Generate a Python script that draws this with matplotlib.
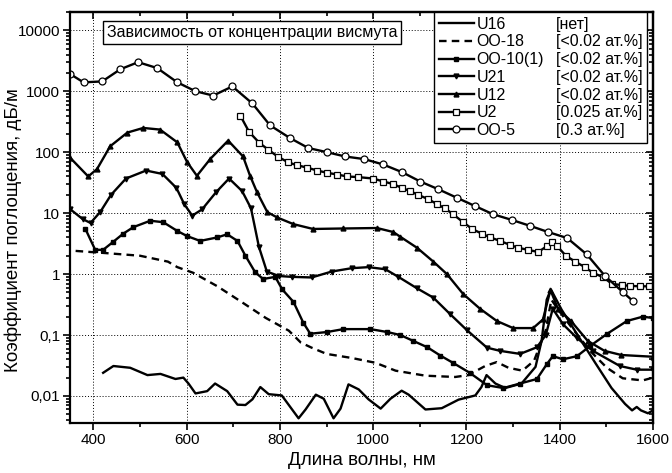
import numpy as np
import matplotlib
matplotlib.use("Agg")
from matplotlib import pyplot as plt
from matplotlib.lines import Line2D
from matplotlib.ticker import FixedLocator, FixedFormatter, LogLocator, NullFormatter, MultipleLocator

plt.rcParams['font.family'] = ['Liberation Sans', 'DejaVu Sans']

# U16 (no Bi)
u16_x = [421, 443, 479, 516, 544, 576, 593, 604, 619, 644, 661, 687, 709, 726, 741, 758, 776,
         804, 840, 855, 877, 894, 915, 930, 947, 969, 990, 1016, 1037, 1061, 1076, 1112, 1147,
         1183, 1219, 1232, 1243, 1262, 1283, 1318, 1348, 1361, 1372, 1381, 1404, 1440, 1476,
         1511, 1540, 1555, 1565, 1574, 1589, 1600]
u16_y = [0.024, 0.031, 0.029, 0.022, 0.023, 0.019, 0.020, 0.016, 0.011, 0.012, 0.016, 0.012,
         0.0072, 0.0071, 0.0088, 0.014, 0.0107, 0.0102, 0.0043, 0.006, 0.0105, 0.009, 0.0043,
         0.0062, 0.0155, 0.0128, 0.0088, 0.0062, 0.009, 0.0122, 0.0105, 0.006, 0.0063, 0.0087,
         0.0102, 0.014, 0.022, 0.016, 0.0135, 0.016, 0.03, 0.08, 0.38, 0.56, 0.26, 0.095, 0.035,
         0.0135, 0.0074, 0.0058, 0.0066, 0.0058, 0.0052, 0.0058]

# OO-18
oo18_x = [362, 430, 500, 560, 580, 614, 666, 715, 770, 819, 845, 868, 900, 954, 1005, 1048,
          1112, 1176, 1204, 1240, 1265, 1290, 1320, 1345, 1370, 1382, 1400, 1430, 1465, 1501,
          1535, 1578, 1600]
oo18_y = [2.4, 2.2, 2.0, 1.6, 1.3, 1.05, 0.63, 0.36, 0.19, 0.118, 0.075, 0.062, 0.049, 0.042,
          0.035, 0.026, 0.0215, 0.0205, 0.022, 0.031, 0.036, 0.029, 0.026, 0.038, 0.12, 0.38,
          0.24, 0.12, 0.055, 0.029, 0.0195, 0.018, 0.02]

# OO-10(1)
oo10_x = [383, 404, 421, 443, 464, 486, 522, 550, 580, 601, 629, 666, 687, 709, 726, 747, 764,
          790, 805, 829, 850, 865, 901, 936, 994, 1030, 1058, 1086, 1116, 1144, 1171, 1207,
          1244, 1279, 1315, 1351, 1372, 1385, 1407, 1437, 1465, 1501, 1544, 1578, 1600]
oo10_y = [5.5, 2.5, 2.5, 3.4, 4.6, 5.9, 7.5, 7.1, 5.1, 4.2, 3.5, 4.0, 4.5, 3.5, 2.0, 1.07, 0.83,
          0.9, 0.56, 0.35, 0.16, 0.105, 0.112, 0.125, 0.125, 0.112, 0.1, 0.08, 0.063, 0.046,
          0.035, 0.024, 0.015, 0.0135, 0.016, 0.019, 0.033, 0.045, 0.04, 0.045, 0.066, 0.104,
          0.17, 0.2, 0.19]

# U21
u21_x = [351, 377, 394, 415, 438, 470, 513, 548, 578, 595, 612, 633, 663, 691, 719, 738, 755,
         772, 798, 826, 868, 911, 954, 990, 1026, 1054, 1093, 1129, 1165, 1201, 1244, 1272,
         1315, 1351, 1370, 1385, 1407, 1437, 1471, 1529, 1565, 1600]
u21_y = [11.5, 8.0, 6.9, 10.5, 20, 37, 50, 44, 26, 14, 9.1, 11.5, 22, 37, 23, 12, 2.8, 1.1,
         0.93, 0.9, 0.88, 1.1, 1.25, 1.3, 1.2, 0.9, 0.59, 0.41, 0.22, 0.12, 0.062, 0.055,
         0.049, 0.063, 0.1, 0.27, 0.15, 0.089, 0.055, 0.031, 0.027, 0.027]

# U12
u12_x = [351, 389, 408, 436, 473, 507, 543, 580, 601, 622, 651, 689, 721, 736, 751, 773, 794,
         829, 871, 936, 1008, 1043, 1058, 1094, 1129, 1158, 1193, 1229, 1265, 1300, 1343,
         1364, 1380, 1396, 1424, 1460, 1496, 1532, 1600]
u12_y = [80, 40, 53, 125, 210, 250, 235, 145, 69, 41, 78, 155, 85, 41, 22, 10.4, 8.5, 6.6,
         5.5, 5.6, 5.7, 4.9, 4.1, 2.7, 1.6, 1.0, 0.47, 0.27, 0.17, 0.13, 0.13, 0.18, 0.55,
         0.27, 0.17, 0.08, 0.055, 0.047, 0.044]

# U2
u2_x = [715, 734, 756, 775, 796, 818, 837, 858, 880, 901, 923, 944, 968, 1000, 1022, 1043,
        1061, 1079, 1096, 1118, 1137, 1154, 1171, 1193, 1212, 1233, 1251, 1272, 1294, 1311,
        1332, 1354, 1373, 1384, 1394, 1413, 1433, 1454, 1471, 1493, 1512, 1533, 1551, 1572,
        1591]
u2_y = [400, 215, 142, 110, 84, 68, 61, 56, 50, 46, 43, 40, 39, 37, 33, 30, 26, 23, 20, 17,
        14, 12, 9.6, 7.1, 5.5, 4.6, 4.0, 3.5, 3.0, 2.7, 2.5, 2.3, 2.9, 3.3, 2.9, 2.0, 1.6,
        1.3, 1.05, 0.89, 0.69, 0.66, 0.64, 0.63, 0.63]

# OO-5
oo5_x = [351, 379, 419, 458, 496, 537, 580, 619, 657, 698, 741, 779, 822, 861, 901, 940, 981,
         1021, 1062, 1101, 1140, 1180, 1219, 1257, 1298, 1336, 1375, 1416, 1458, 1497, 1536,
         1557]
oo5_y = [1900, 1400, 1450, 2300, 3000, 2400, 1400, 1000, 850, 1200, 630, 275, 170, 117, 100,
         85, 77, 63, 47, 33, 24.6, 17.8, 13, 9.6, 7.7, 6.2, 4.9, 3.9, 2.1, 0.93, 0.5, 0.36]

names = ['U16', 'OO-18', 'OO-10(1)', 'U21', 'U12', 'U2', 'OO-5']
conc = ['[нет]', '[<0.02 ат.%]', '[<0.02 ат.%]', '[<0.02 ат.%]', '[<0.02 ат.%]',
        '[0.025 ат.%]', '[0.3 ат.%]']

yticks = [0.01, 0.1, 1, 10, 100, 1000, 10000]
yticklabels = ['0,01', '0,1', '1', '10', '100', '1000', '10000']

fig = plt.figure(figsize=(6.72, 4.73), dpi=100)
ax = fig.add_axes([0.1042, 0.1057, 0.8676, 0.869])

lw = 1.7
dash = (0, (3.2, 2.2))
styles = [
    dict(color='k', lw=lw),
    dict(color='k', lw=lw, ls=dash),
    dict(color='k', lw=lw, marker='s', ms=3),
    dict(color='k', lw=lw, marker='v', ms=3.5),
    dict(color='k', lw=lw, marker='^', ms=3.5),
    dict(color='k', lw=lw, marker='s', ms=4, mfc='white', mew=0.9),
    dict(color='k', lw=lw, marker='o', ms=5, mfc='white', mew=0.9),
]
series = [(u16_x, u16_y), (oo18_x, oo18_y), (oo10_x, oo10_y), (u21_x, u21_y),
          (u12_x, u12_y), (u2_x, u2_y), (oo5_x, oo5_y)]
for (xs, ys), st in zip(series, styles):
    ax.plot(xs, ys, **st)

ax.set_yscale('log')
ax.set_xlim(350, 1600)
ax.set_ylim(0.0036, 20000)
ax.xaxis.set_major_locator(MultipleLocator(200))
ax.xaxis.set_minor_locator(MultipleLocator(100))
ax.yaxis.set_major_locator(FixedLocator(yticks))
ax.yaxis.set_major_formatter(FixedFormatter(yticklabels))
ax.yaxis.set_minor_locator(LogLocator(base=10, subs=np.arange(2, 10)))
ax.yaxis.set_minor_formatter(NullFormatter())
ax.tick_params(which='both', direction='out', labelsize=11, width=1.2, pad=2)
ax.tick_params(which='major', length=5)
ax.tick_params(which='minor', length=3)

# inward ticks on top and right
top = ax.secondary_xaxis('top')
top.xaxis.set_major_locator(MultipleLocator(200))
top.xaxis.set_minor_locator(MultipleLocator(100))
top.tick_params(which='both', direction='in', labeltop=False, width=1.2)
top.tick_params(which='major', length=5)
top.tick_params(which='minor', length=3)
right = ax.secondary_yaxis('right')
right.yaxis.set_major_locator(FixedLocator(yticks))
right.yaxis.set_minor_locator(LogLocator(base=10, subs=np.arange(2, 10)))
right.tick_params(which='both', direction='in', labelright=False, width=1.2)
right.tick_params(which='major', length=5)
right.tick_params(which='minor', length=3)
for a in (ax, top, right):
    for s in a.spines.values():
        s.set_linewidth(1.6)

ax.grid(True, which='major', ls=(0, (1, 2)), color='k', lw=0.7)

ax.set_xlabel('Длина волны, нм', fontsize=13.5)
ax.set_ylabel('Коэффициент поглощения, дБ/м', fontsize=13.5)
ax.xaxis.set_label_coords(0.5, -0.07)
ax.yaxis.set_label_coords(-0.083, 0.47)

ax.text(0.063, 0.951, 'Зависимость от концентрации висмута', transform=ax.transAxes,
        fontsize=11.5, va='center', ha='left',
        bbox=dict(boxstyle='square,pad=0.25', fc='white', ec='k', lw=1))

handles = [Line2D([], [], **st) for st in styles]
blanks = [Line2D([], [], color='none') for _ in conc]
leg = ax.legend(handles + blanks, names + conc, ncol=2, loc='upper right',
                bbox_to_anchor=(0.99, 1.0), borderaxespad=0, fontsize=11.5,
                handlelength=2.2, handletextpad=0.15, labelspacing=0.17,
                columnspacing=-1.6, fancybox=False, framealpha=1, edgecolor='k',
                borderpad=0.3)
leg.get_frame().set_linewidth(1.0)

fig.savefig('out.png', dpi=100)
